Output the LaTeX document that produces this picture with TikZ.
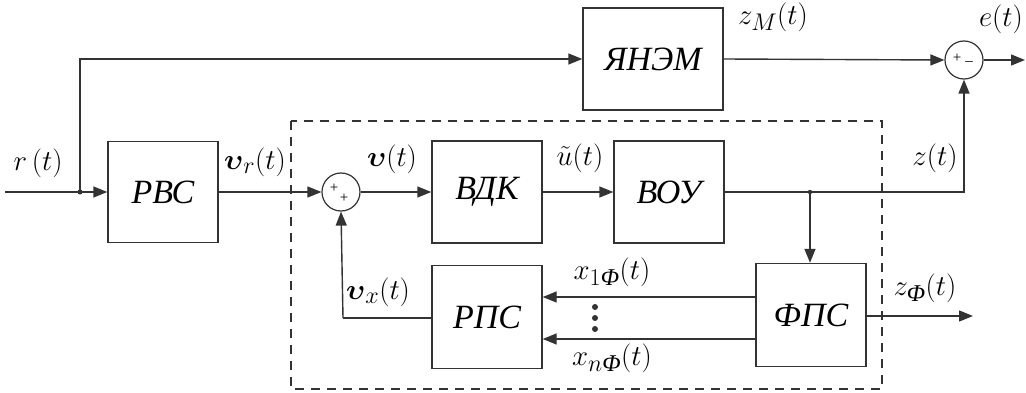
\documentclass[tikz,border=0pt]{standalone}
\usepackage{graphicx}
\usepackage{amsmath}
\usepackage{fontspec}
\setmainfont{Liberation Serif}
\usetikzlibrary{arrows.meta,calc}
\definecolor{ln}{HTML}{333333}
\newcommand{\Fi}{\text{\itshape Φ}}
\newcommand{\lb}[1]{\scalebox{1.16}{$#1$}}
\tikzset{
  blk/.style={draw=ln, line width=1.4pt, minimum width=110pt, minimum height=102pt, inner sep=0pt,
    font=\fontsize{34}{36}\selectfont\itshape},
  sumc/.style={draw=ln, line width=1.2pt, circle, minimum size=38pt, inner sep=0pt},
  con/.style={draw=ln, line width=1.4pt},
  arr/.style={con, -{Triangle[length=14pt,width=11pt]}},
  lbl/.style={font=\Huge, inner sep=0pt},
  sgn/.style={font=\fontsize{15}{15}\selectfont, inner sep=0pt},
}
\begin{document}
\begin{tikzpicture}[x=1pt, y=-1pt]
\useasboundingbox (0,0) rectangle (1026,393);
\fill[white] (0,0) rectangle (1026,393);
% dashed frame
\draw[ln, line width=1.3pt, dash pattern=on 9pt off 7pt] (291,121) rectangle (882,389);
% blocks
\node[blk, minimum width=140pt] (yanem) at (653,59) {ЯНЭМ};
\node[blk, minimum height=101pt] (rvs) at (163,192) {РВС};
\node[blk] (vdk) at (487,192) {ВДК};
\node[blk] (vou) at (669,192) {ВОУ};
\node[blk, minimum height=103pt] (rps) at (487,317) {РПС};
\node[blk, minimum height=103pt] (fps) at (811,315) {ФПС};
% summers
\node[sumc] (s1) at (341,192) {};
\node[sumc] (s2) at (964,60) {};
\node[sgn] at ($(s1.center)+(-7,-4)$) {+};
\node[sgn] at ($(s1.center)+(3,6)$) {+};
\node[sgn] at ($(s2.center)+(-7,-2)$) {+};
\node[sgn] at ($(s2.center)+(5,1)$) {\_};
% coordinates
\coordinate (in) at (5,192);
\coordinate (j1) at (80,192);
\coordinate (j2) at (810,192);
\coordinate (eout) at (1025,60);
\coordinate (zfout) at (973,316);
\coordinate (fb) at (343,318);
% connectors
\draw[con] (in) -- (j1);
\draw[arr] (j1) -- (rvs.west);
\fill[ln] (j1) circle (2.5pt);
\draw[arr] (j1) |- (yanem.west);
\draw[arr] (yanem.east) -- (s2.west);
\draw[arr] (s2.east) -- (eout);
\draw[arr] (rvs.east) -- (s1.west);
\draw[arr] (s1.east) -- (vdk.west);
\draw[arr] (vdk.east) -- (vou.west);
\draw[con] (vou.east) -- (j2);
\draw[arr] (j2) -| (s2.south);
\fill[ln] (j2) circle (2.2pt);
\draw[arr] (j2) -- (fps.north -| j2);
\draw[arr] (fps.east |- zfout) -- (zfout);
\draw[arr] (fps.west |- 0,297) -- (rps.east |- 0,297);
\draw[arr] (fps.west |- 0,339) -- (rps.east |- 0,339);
\draw[con] (rps.west |- fb) -- (fb);
\draw[arr] (fb) -- (s1.south);
% dots
\node[circle, fill=ln, minimum size=6pt, inner sep=0pt] (d1) at (595,307) {};
\node[circle, fill=ln, minimum size=6pt, inner sep=0pt] (d2) at (595,318) {};
\node[circle, fill=ln, minimum size=6pt, inner sep=0pt] (d3) at (595,329) {};
% labels
\node[lbl] (lr) at (38,163) {\lb{r\,(t)}};
\node[lbl] (lvr) at (255,162) {\lb{\boldsymbol{\upsilon}_r(t)}};
\node[lbl] (lv) at (392,159) {\lb{\boldsymbol{\upsilon}(t)}};
\node[lbl] (lu) at (580,158) {\lb{\tilde{u}(t)}};
\node[lbl] (lz) at (935,158) {\lb{z(t)}};
\node[lbl] (lzm) at (773,17) {\lb{z_{M}(t)}};
\node[lbl] (le) at (1001,19) {\lb{e(t)}};
\node[lbl] (lzf) at (925,288) {\lb{z_{\Fi}(t)}};
\node[lbl] (lx1) at (612,272) {\lb{x_{1\Fi}(t)}};
\node[lbl] (lxn) at (612,358) {\lb{x_{n\Fi}(t)}};
\node[lbl] (lvx) at (378,292) {\lb{\boldsymbol{\upsilon}_x(t)}};
\end{tikzpicture}
\end{document}
